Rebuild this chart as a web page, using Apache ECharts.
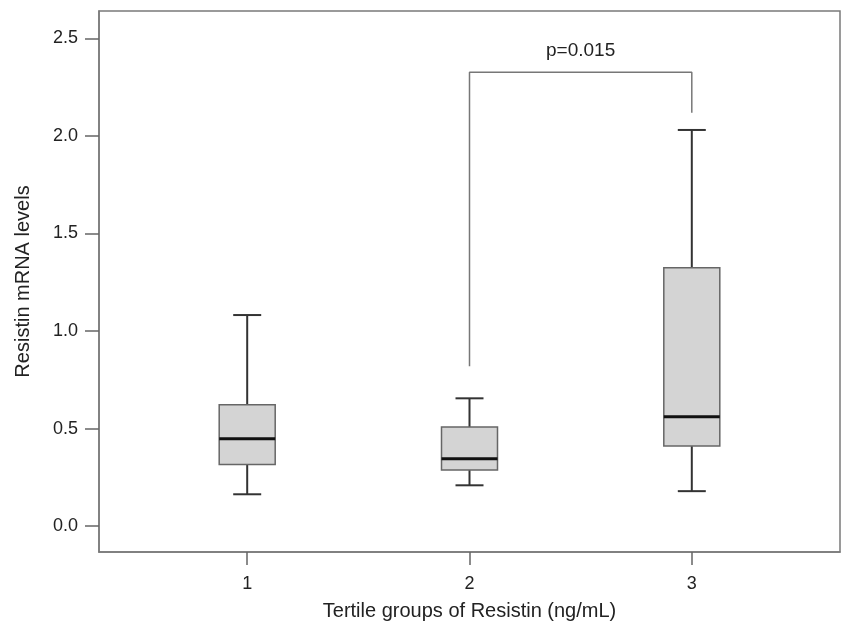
<!DOCTYPE html>
<html>
<head>
<meta charset="utf-8">
<script src="https://cdn.jsdelivr.net/npm/echarts@6/dist/echarts.min.js"></script>
<style>html,body{margin:0;padding:0;background:#fff;}#chart{width:842px;height:626px;}</style>
</head>
<body>
<div id="chart"></div>
<script>
const groups = [1, 2, 3];
const whiskerLow = [0.163, 0.209, 0.179];
const q1 = [0.316, 0.287, 0.410];
const median = [0.448, 0.345, 0.560];
const q3 = [0.622, 0.508, 1.325];
const whiskerHigh = [1.082, 0.655, 2.031];
const yTicks = [0.0, 0.5, 1.0, 1.5, 2.0, 2.5];
const bracket = [[2, 0.82], [2, 2.327], [3, 2.327], [3, 2.119]];
const pLabel = { x: 2.5, y: 2.437, text: 'p=0.015' };

const FONT = '"Liberation Sans", Arial, sans-serif';
const chart = echarts.init(document.getElementById('chart'), null, { renderer: 'canvas' });

const boxData = groups.map((g, i) => [g, whiskerLow[i], q1[i], median[i], q3[i], whiskerHigh[i]]);

chart.setOption({
  animation: false,
  backgroundColor: '#ffffff',
  grid: { left: 99, right: 2, top: 11, bottom: 74, show: true, borderColor: '#7a7a7a', borderWidth: 1.5, backgroundColor: 'transparent' },
  xAxis: {
    type: 'value', min: 1 / 3, max: 11 / 3,
    name: 'Tertile groups of Resistin (ng/mL)', nameLocation: 'middle', nameGap: 49,
    nameTextStyle: { fontFamily: FONT, fontSize: 20, color: '#222' },
    axisLine: { show: true, onZero: false, lineStyle: { color: '#7a7a7a', width: 1.5 } },
    axisTick: { show: true, length: 13, inside: false, customValues: groups, lineStyle: { color: '#666', width: 1.5 } },
    axisLabel: { customValues: groups, margin: 23, fontFamily: FONT, fontSize: 18, color: '#222', formatter: v => String(Math.round(v)) },
    splitLine: { show: false }
  },
  yAxis: {
    type: 'value', min: -0.133, max: 2.641,
    name: 'Resistin mRNA levels', nameLocation: 'middle', nameGap: 66, nameRotate: 90,
    nameTextStyle: { fontFamily: FONT, fontSize: 20, color: '#222' },
    axisLine: { show: true, onZero: false, lineStyle: { color: '#7a7a7a', width: 1.5 } },
    axisTick: { show: true, length: 14, customValues: yTicks, lineStyle: { color: '#666', width: 1.5 } },
    axisLabel: { customValues: yTicks, margin: 21, fontFamily: FONT, fontSize: 18, color: '#222', formatter: v => v.toFixed(1) },
    splitLine: { show: false }
  },
  series: [
    {
      type: 'custom',
      data: boxData,
      encode: { x: 0, y: [1, 2, 3, 4, 5] },
      renderItem: function (params, api) {
        const x = api.value(0);
        const lo = api.coord([x, api.value(1)]);
        const b1 = api.coord([x, api.value(2)]);
        const md = api.coord([x, api.value(3)]);
        const b3 = api.coord([x, api.value(4)]);
        const hi = api.coord([x, api.value(5)]);
        const cx = lo[0];
        const bw = 28, cw = 14;
        const wStyle = { stroke: '#333', lineWidth: 2 };
        return {
          type: 'group',
          children: [
            { type: 'line', shape: { x1: cx, y1: hi[1], x2: cx, y2: b3[1] }, style: wStyle },
            { type: 'line', shape: { x1: cx, y1: b1[1], x2: cx, y2: lo[1] }, style: wStyle },
            { type: 'line', shape: { x1: cx - cw, y1: hi[1], x2: cx + cw, y2: hi[1] }, style: wStyle },
            { type: 'line', shape: { x1: cx - cw, y1: lo[1], x2: cx + cw, y2: lo[1] }, style: wStyle },
            { type: 'rect', shape: { x: cx - bw, y: b3[1], width: 2 * bw, height: b1[1] - b3[1] }, style: { fill: '#d4d4d4', stroke: '#666', lineWidth: 1.5 } },
            { type: 'line', shape: { x1: cx - bw, y1: md[1], x2: cx + bw, y2: md[1] }, style: { stroke: '#111', lineWidth: 3 } }
          ]
        };
      },
      z: 3
    },
    {
      type: 'line',
      data: bracket,
      symbol: 'none',
      lineStyle: { color: '#777', width: 1.5 },
      z: 2
    },
    {
      type: 'custom',
      data: [[pLabel.x, pLabel.y]],
      renderItem: function (params, api) {
        const p = api.coord([api.value(0), api.value(1)]);
        return { type: 'text', x: p[0], y: p[1], style: { text: pLabel.text, fontFamily: FONT, fontSize: 19, fill: '#222', align: 'center', verticalAlign: 'middle' } };
      },
      z: 4
    }
  ]
});
</script>
</body>
</html>
